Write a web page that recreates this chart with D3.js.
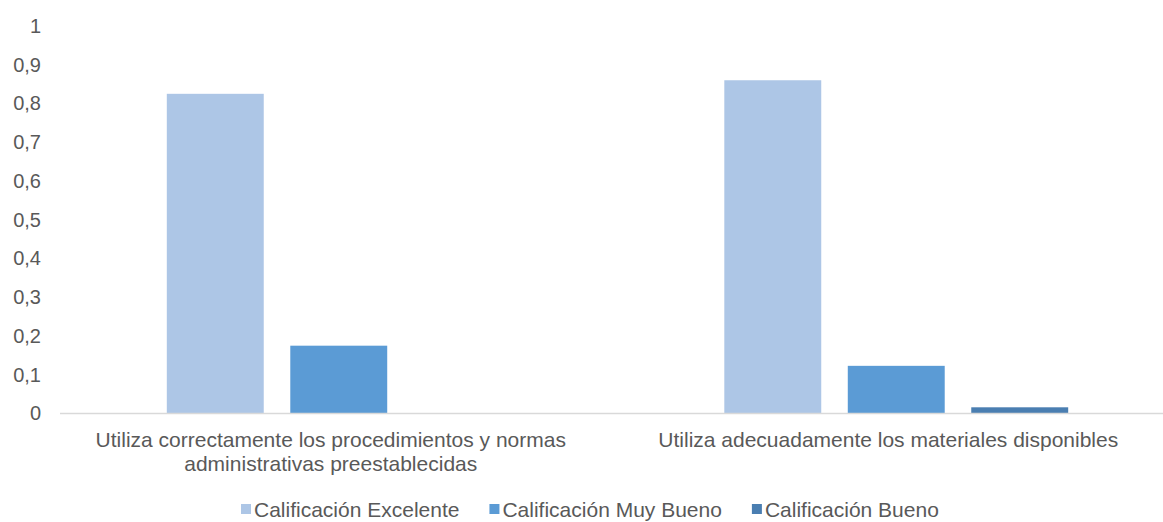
<!DOCTYPE html>
<html>
<head>
<meta charset="utf-8">
<script src="https://cdn.jsdelivr.net/npm/d3@7"></script>
<style>
  body { margin: 0; background: #fff; }
  svg { display: block; font-family: "Liberation Sans", Arial, sans-serif; }
</style>
</head>
<body>
<svg id="chart" width="1163" height="522"></svg>
<script>
const categories = [
  "Utiliza correctamente los procedimientos y normas administrativas preestablecidas",
  "Utiliza adecuadamente los materiales disponibles"
];
const series = ["Calificación Excelente", "Calificación Muy Bueno", "Calificación Bueno"];
const excelente = [0.825, 0.86];
const muyBueno = [0.175, 0.123];
const bueno = [0, 0.016];
const yTicks = [0, 0.1, 0.2, 0.3, 0.4, 0.5, 0.6, 0.7, 0.8, 0.9, 1];
const colors = ["#adc6e6", "#5b9bd5", "#4a7eb1"];

const values = [excelente, muyBueno, bueno];
const rows = categories.map((c, i) => ({
  cat: c,
  vals: series.map((s, j) => ({key: s, value: values[j][i]}))
}));

const svg = d3.select("#chart");
const textColor = "#595959";

// plot area is wider than the visible page (the chart is cut on the right)
const x0 = d3.scaleBand().domain(categories).range([60, 1175]);
const x1 = d3.scaleBand().domain(series)
  .range([0, x0.bandwidth()])
  .paddingInner(0.215)
  .paddingOuter(0.865);
const y = d3.scaleLinear().domain([0, 1]).range([413.5, 26]);
const color = d3.scaleOrdinal().domain(series).range(colors);

const fmt = d => d3.format("~g")(d).replace(".", ",");

// y axis labels, no line
const yAxis = svg.append("g")
  .attr("transform", "translate(41,0)")
  .call(d3.axisLeft(y).tickValues(yTicks).tickFormat(fmt).tickSize(0).tickPadding(0));
yAxis.select(".domain").remove();
yAxis.selectAll("text")
  .attr("fill", textColor)
  .style("font-size", "20px")
  .style("font-family", "'Liberation Sans', Arial, sans-serif");

// bars
svg.append("g")
  .selectAll("g")
  .data(rows)
  .join("g")
  .attr("transform", d => `translate(${x0(d.cat)},0)`)
  .selectAll("rect")
  .data(d => d.vals)
  .join("rect")
  .attr("x", d => x1(d.key))
  .attr("width", x1.bandwidth())
  .attr("y", d => y(d.value))
  .attr("height", d => y(0) - y(d.value))
  .attr("fill", d => color(d.key));

// baseline
svg.append("line")
  .attr("x1", x0.range()[0])
  .attr("x2", x0.range()[1])
  .attr("y1", y(0))
  .attr("y2", y(0))
  .attr("stroke", "#d9d9d9")
  .attr("stroke-width", 1.5);

// category labels, wrapped to the band width
const xAxis = svg.append("g")
  .attr("transform", `translate(-8,${y(0)})`)
  .call(d3.axisBottom(x0).tickSize(0).tickPadding(0));
xAxis.select(".domain").remove();
xAxis.selectAll("text")
  .attr("fill", textColor)
  .attr("y", 0)
  .attr("dy", 0)
  .style("font-size", "21px")
  .style("font-family", "'Liberation Sans', Arial, sans-serif")
  .each(function(d) {
    const t = d3.select(this);
    const words = d.split(" ");
    t.text(null);
    let line = [];
    let lineNo = 0;
    let tspan = t.append("tspan").attr("x", 0).attr("y", 33);
    words.forEach(w => {
      line.push(w);
      tspan.text(line.join(" "));
      if (tspan.node().getComputedTextLength() > x0.bandwidth() - 20 && line.length > 1) {
        line.pop();
        tspan.text(line.join(" "));
        line = [w];
        lineNo++;
        tspan = t.append("tspan").attr("x", 0).attr("y", 33 + lineNo * 24).text(w);
      }
    });
  });

// legend
const legend = svg.append("g").attr("transform", "translate(241,517)");
const items = legend.selectAll("g")
  .data(series)
  .join("g");
items.append("rect")
  .attr("y", -13)
  .attr("width", 10)
  .attr("height", 10)
  .attr("fill", d => color(d));
items.append("text")
  .attr("x", 13)
  .attr("fill", textColor)
  .style("font-size", "21px")
  .text(d => d);

let pos = 0;
const offsets = [];
items.each(function() {
  offsets.push(pos);
  pos += this.getBBox().width + 30;
});
items.attr("transform", (d, i) => `translate(${offsets[i]},0)`);
</script>
</body>
</html>
